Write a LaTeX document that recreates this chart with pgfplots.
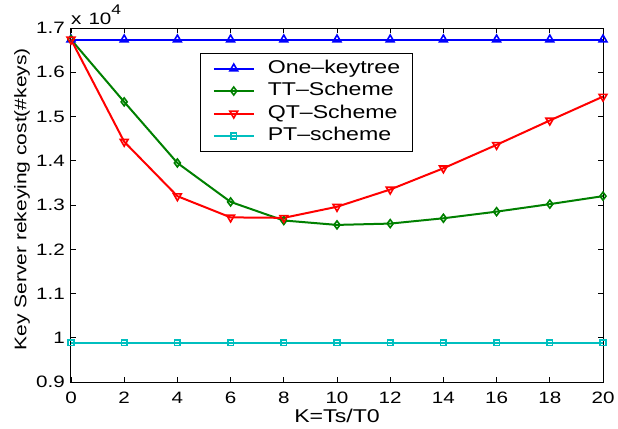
\documentclass[border=0pt]{standalone}
\usepackage{pgfplots}
\pgfplotsset{compat=1.18}
\usepackage{fontspec}
\setmainfont[FakeStretch=1.25]{Liberation Sans}
\definecolor{mgreen}{rgb}{0,0.5,0}
\definecolor{mcyan}{rgb}{0,0.75,0.75}
\begin{document}
\begin{tikzpicture}[font=\fontsize{16.5bp}{19bp}\selectfont]
\begin{axis}[
  at={(0,0)}, anchor=south west,
  scale only axis, width=532bp, height=354bp,
  xmin=0, xmax=20, ymin=9000, ymax=17000,
  xtick={0,2,4,6,8,10,12,14,16,18,20},
  xticklabels={0,2,4,6,8,10,12,14,16,18,20},
  ytick={9000,10000,11000,12000,13000,14000,15000,16000,17000},
  yticklabels={0.9,1,1.1,1.2,1.3,1.4,1.5,1.6,1.7},
  scaled y ticks=false,
  tick align=inside,
  major tick length=5bp,
  every tick/.style={black, line width=0.8bp},
  axis line style={black, line width=1bp},
  every tick label/.append style={inner sep=0pt},
  xticklabel style={anchor=north, yshift=-9.5bp},
  yticklabel style={anchor=east, xshift=-6bp},
  xlabel={K=Ts/T0},
  xlabel style={at={(axis description cs:0.5,0)}, anchor=north, yshift=-27bp, inner sep=0pt, font=\fontsize{18.5bp}{20bp}\selectfont},
  ylabel={Key Server rekeying cost(\#keys)},
  ylabel style={at={(axis description cs:-0.0771,0.516)}, rotate=0, anchor=south, inner sep=0pt, font=\fontsize{16.8bp}{20bp}\selectfont},
  clip=false,
  legend style={at={(axis description cs:0.243,0.930)}, anchor=north west, draw=black, line width=1bp,
    font=\fontsize{18.5bp}{21bp}\selectfont, inner xsep=12bp, inner ysep=7bp, row sep=6bp, column sep=13bp,
    nodes={inner sep=0pt, text height=13bp, text depth=3.5bp}},
  legend cell align=left,
  legend image post style={line width=2bp},
  legend image code/.code={\draw[mark repeat=2,mark phase=2] plot coordinates {(0bp,0bp)(20bp,0bp)(40bp,0bp)};},
]
\addplot[color=blue, line width=2bp, mark=triangle, mark size=4.5bp, mark options={solid, line width=1.6bp}] coordinates {
(0,16740)(2,16740)(4,16740)(6,16740)(8,16740)(10,16740)(12,16740)(14,16740)(16,16740)(18,16740)(20,16740)};
\addlegendentry{One--keytree}
\addplot[color=mgreen, line width=2bp, mark=diamond, mark size=4bp, mark options={solid, line width=1.6bp}] coordinates {
(0,16740)(2,15330)(4,13950)(6,13070)(8,12650)(10,12550)(12,12580)(14,12700)(16,12850)(18,13020)(20,13200)};
\addlegendentry{TT--Scheme}
\addplot[color=red, line width=2bp, mark=triangle, mark size=4.5bp, mark options={solid, rotate=180, line width=1.6bp}] coordinates {
(0,16740)(2,14430)(4,13200)(6,12720)(8,12710)(10,12960)(12,13350)(14,13830)(16,14360)(18,14910)(20,15450)};
\addlegendentry{QT--Scheme}
\addplot[color=mcyan, line width=2bp, mark=square, mark size=2.8bp, mark options={solid, line width=1.6bp}] coordinates {
(0,9890)(2,9890)(4,9890)(6,9890)(8,9890)(10,9890)(12,9890)(14,9890)(16,9890)(18,9890)(20,9890)};
\addlegendentry{PT--scheme}
\node[anchor=base west, inner sep=0pt] at ([yshift=4bp]rel axis cs:0,1) {x\hspace{7bp}10\raisebox{0.55em}{\fontsize{14bp}{14bp}\selectfont 4}};
\end{axis}
\pgfresetboundingbox
\useasboundingbox (-71bp,-47bp) rectangle (547bp,382bp);
\end{tikzpicture}
\end{document}
